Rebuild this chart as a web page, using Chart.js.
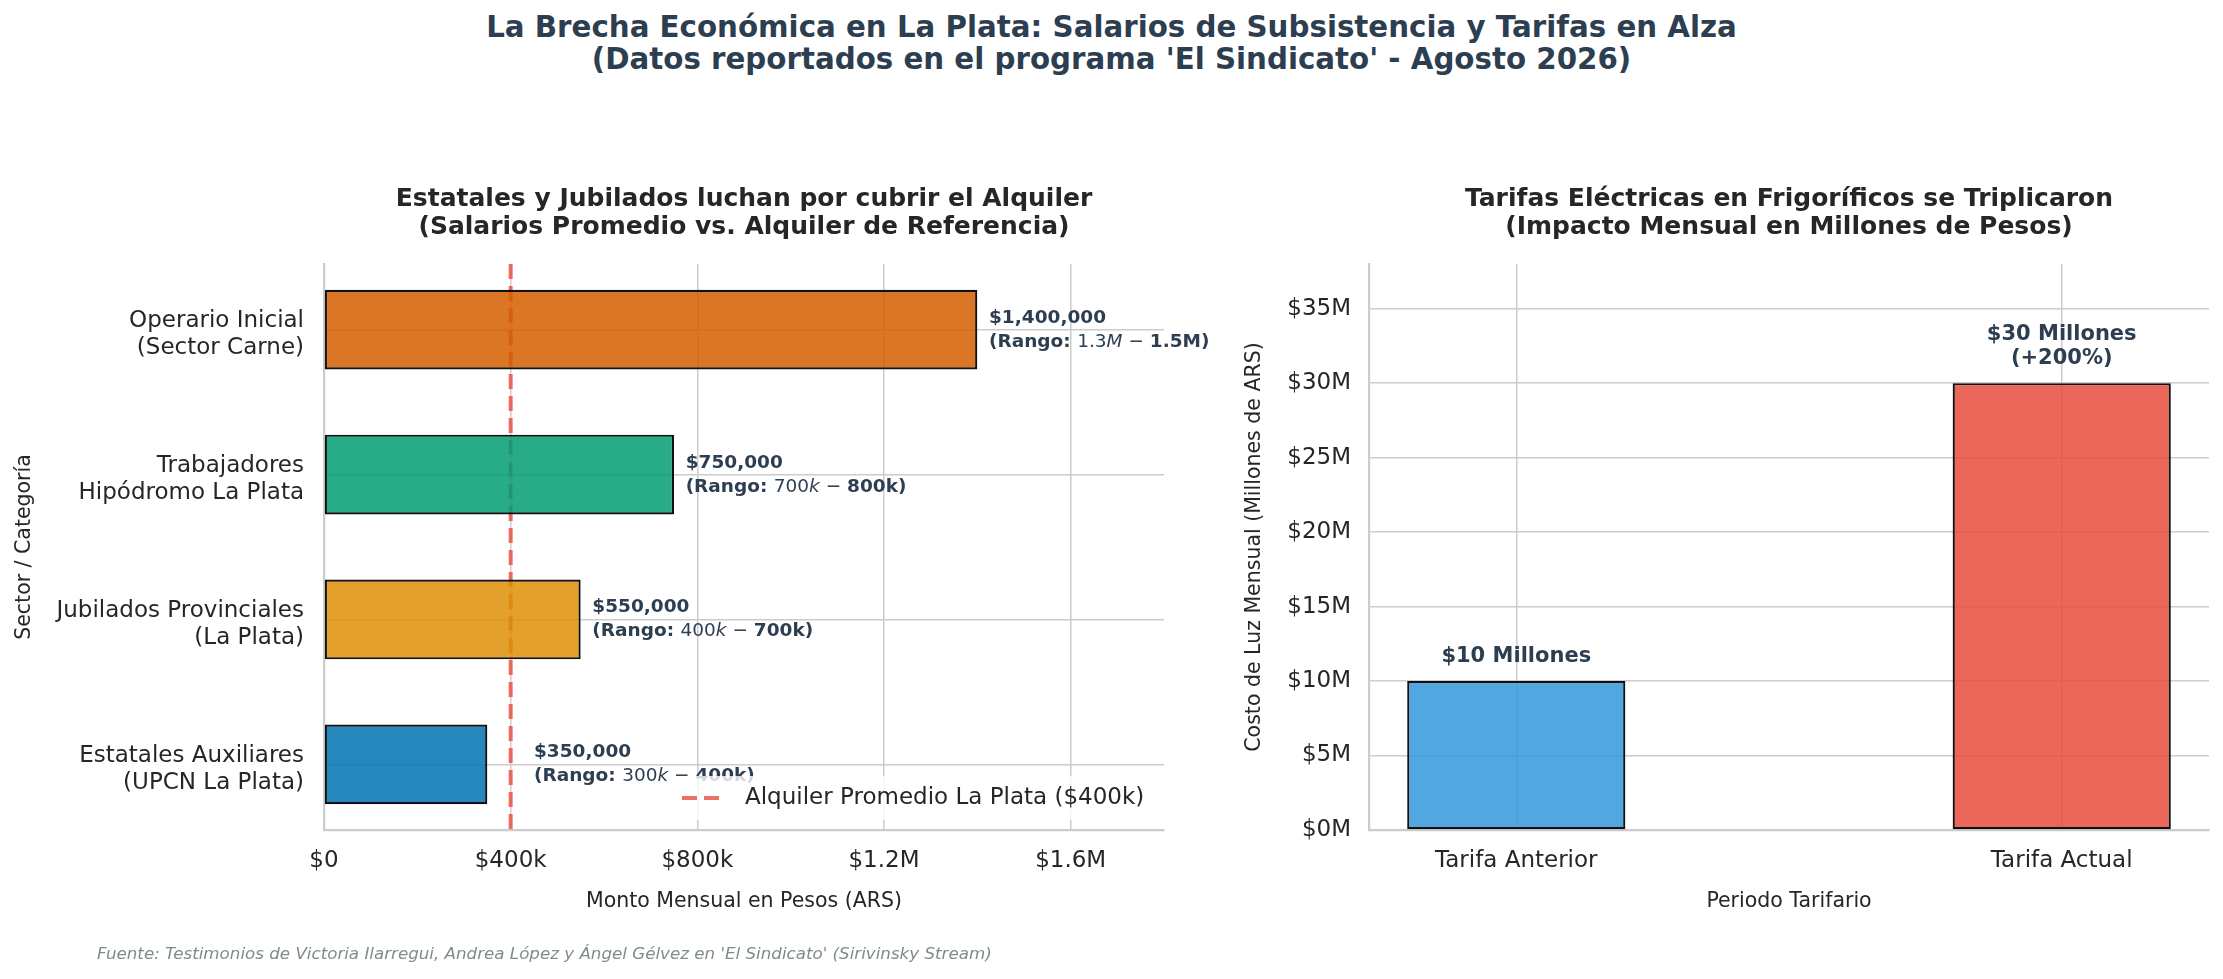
<!DOCTYPE html>
<html>
<head>
<meta charset="utf-8">
<script src="https://cdn.jsdelivr.net/npm/chart.js@4.4.0/dist/chart.umd.min.js"></script>
<style>
  body { margin: 0; background: #fff; width: 2223px; height: 979px; position: relative; overflow: hidden; }
  canvas { position: absolute; top: 0; }
  #title { position: absolute; left: 0; top: 11px; width: 2223px; text-align: center;
           font: bold 29.3px/32px 'DejaVu Sans'; color: #2c3e50; }
  #source { position: absolute; left: 97px; top: 944px; font: italic 16.7px/18px 'DejaVu Sans'; color: #7f8c8d; }
</style>
</head>
<body>
<div id="title">La Brecha Económica en La Plata: Salarios de Subsistencia y Tarifas en Alza<br>(Datos reportados en el programa 'El Sindicato' - Agosto 2026)</div>
<canvas id="right" width="1023" height="979" style="left:1200px"></canvas>
<canvas id="left" width="1250" height="979" style="left:0"></canvas>
<div id="source">Fuente: Testimonios de Victoria Ilarregui, Andrea López y Ángel Gélvez en 'El Sindicato' (Sirivinsky Stream)</div>

<script>
// salarios (panel izquierdo)
const sectors = [
  ['Operario Inicial', '(Sector Carne)'],
  ['Trabajadores', 'Hipódromo La Plata'],
  ['Jubilados Provinciales', '(La Plata)'],
  ['Estatales Auxiliares', '(UPCN La Plata)']
];
const salaries = [1400000, 750000, 550000, 350000];
const salaryText = ['$1,400,000', '$750,000', '$550,000', '$350,000'];
const rangeLow = ['1.3M', '700k', '400k', '300k'];
const rangeHigh = ['1.5M', '800k', '700k', '400k'];
const sectorColors = ['#D55E00', '#029E73', '#DE8F05', '#0173B2'];
const rent = 400000;
const salaryTicks = [0, 400000, 800000, 1200000, 1600000];
const salaryTickLabels = ['$0', '$400k', '$800k', '$1.2M', '$1.6M'];

// tarifas (panel derecho), en millones
const periods = ['Tarifa Anterior', 'Tarifa Actual'];
const tariffs = [10, 30];
const tariffText = [['$10 Millones'], ['$30 Millones', '(+200%)']];
const tariffColors = ['#3498db', '#e74c3c'];
const tariffTicks = [0, 5, 10, 15, 20, 25, 30, 35];

const FONT = "'DejaVu Sans'";
Chart.defaults.font.family = FONT;
Chart.defaults.color = '#262626';

function fade(hex, a) {
  const n = parseInt(hex.slice(1), 16);
  return 'rgba(' + (n >> 16) + ',' + ((n >> 8) & 255) + ',' + (n & 255) + ',' + a + ')';
}

const grid = { color: '#cccccc', lineWidth: 1.5, drawTicks: false, offset: false };
const border = { color: '#cccccc', width: 2.2 };
const tickFont = { size: 23, lineHeight: 1.15 };
const axisTitleFont = { size: 20.5 };
const rentStyle = { color: 'rgba(231,76,60,0.8)', width: 4, dash: [15, 7] };

function drawTitle(ctx, area, lines, y0) {
  ctx.save();
  ctx.font = 'bold 25px ' + FONT;
  ctx.fillStyle = '#262626';
  ctx.textAlign = 'center';
  ctx.textBaseline = 'alphabetic';
  const cx = (area.left + area.right) / 2;
  lines.forEach((l, i) => ctx.fillText(l, cx, y0 + i * 28));
  ctx.restore();
}

function splitUnit(s) {
  return [s.slice(0, -1), s.slice(-1)];
}

const leftExtras = {
  id: 'leftExtras',
  beforeDatasetsDraw(chart) {
    const { ctx, chartArea, scales } = chart;
    const x = scales.x.getPixelForValue(rent);
    ctx.save();
    ctx.strokeStyle = rentStyle.color;
    ctx.lineWidth = rentStyle.width;
    ctx.setLineDash(rentStyle.dash);
    ctx.beginPath();
    ctx.moveTo(x, chartArea.top);
    ctx.lineTo(x, chartArea.bottom);
    ctx.stroke();
    ctx.restore();
  },
  afterDatasetsDraw(chart) {
    const { ctx, chartArea, scales } = chart;
    ctx.save();
    ctx.fillStyle = '#2c3e50';
    ctx.textAlign = 'left';
    ctx.textBaseline = 'alphabetic';
    salaries.forEach((v, i) => {
      const at = v < rent ? rent + 50000 : v + 25000;
      let x = scales.x.getPixelForValue(at);
      const c = scales.y.getPixelForValue(i);
      ctx.font = 'bold 18.5px ' + FONT;
      ctx.fillText(salaryText[i], x, c - 7);
      const lo = splitUnit(rangeLow[i]);
      const pieces = [
        ['bold 18.5px ', '(Rango: '],
        ['18.5px ', lo[0]],
        ['italic 18.5px ', lo[1]],
        ['18.5px ', ' \u2212 '],
        ['bold 18.5px ', rangeHigh[i] + ')']
      ];
      pieces.forEach(p => {
        ctx.font = p[0] + FONT;
        ctx.fillText(p[1], x, c + 17);
        x += ctx.measureText(p[1]).width;
      });
    });

    // leyenda abajo a la derecha
    const bx = 674, by = 776, bw = chartArea.right - 11 - 674, bh = 44;
    ctx.fillStyle = 'rgba(255,255,255,0.8)';
    ctx.fillRect(bx, by, bw, bh);
    const ly = by + bh / 2;
    ctx.strokeStyle = rentStyle.color;
    ctx.lineWidth = rentStyle.width;
    ctx.setLineDash(rentStyle.dash);
    ctx.beginPath();
    ctx.moveTo(bx + 8, ly);
    ctx.lineTo(bx + 52, ly);
    ctx.stroke();
    ctx.setLineDash([]);
    ctx.fillStyle = '#262626';
    ctx.font = '23px ' + FONT;
    ctx.textBaseline = 'middle';
    ctx.fillText('Alquiler Promedio La Plata ($400k)', bx + 71, ly);
    ctx.restore();

    drawTitle(ctx, chartArea, ['Estatales y Jubilados luchan por cubrir el Alquiler',
                               '(Salarios Promedio vs. Alquiler de Referencia)'], 206);
  }
};

const rightExtras = {
  id: 'rightExtras',
  afterDatasetsDraw(chart) {
    const { ctx, chartArea, scales } = chart;
    ctx.save();
    ctx.fillStyle = '#2c3e50';
    ctx.textAlign = 'center';
    ctx.textBaseline = 'alphabetic';
    ctx.font = 'bold 21px ' + FONT;
    tariffs.forEach((v, i) => {
      const x = scales.x.getPixelForValue(i);
      const top = scales.y.getPixelForValue(v);
      const lines = tariffText[i];
      lines.forEach((l, j) => {
        ctx.fillText(l, x, top - 19 - (lines.length - 1 - j) * 24);
      });
    });
    ctx.restore();
    drawTitle(ctx, chartArea, ['Tarifas Eléctricas en Frigoríficos se Triplicaron',
                               '(Impacto Mensual en Millones de Pesos)'], 206);
  }
};

new Chart(document.getElementById('left'), {
  type: 'bar',
  data: {
    datasets: [{
      data: salaries.map((v, i) => ({ x: v, y: i })),
      backgroundColor: sectorColors.map(c => fade(c, 0.85)),
      borderColor: '#111111',
      borderWidth: 2.2,
      borderSkipped: false,
      barPercentage: 0.55,
      categoryPercentage: 1
    }]
  },
  options: {
    indexAxis: 'y',
    responsive: false,
    animation: false,
    devicePixelRatio: 1,
    layout: { padding: { top: 264, right: 86, left: 0, bottom: 0 } },
    plugins: { legend: { display: false }, tooltip: { enabled: false } },
    scales: {
      x: {
        type: 'linear', position: 'bottom', min: 0, max: 1800000, offset: false,
        afterBuildTicks: s => { s.ticks = salaryTicks.map(v => ({ value: v })); },
        afterFit: s => { s.height = 149; },
        ticks: {
          callback: v => salaryTickLabels[salaryTicks.indexOf(v)],
          font: tickFont, color: '#262626', padding: 18, maxRotation: 0, autoSkip: false
        },
        grid: grid, border: border,
        title: { display: true, text: 'Monto Mensual en Pesos (ARS)', font: axisTitleFont,
                 color: '#262626', padding: { top: 0, bottom: 64.7 } }
      },
      y: {
        type: 'linear', reverse: true, min: -0.4525, max: 3.4525, offset: false,
        afterBuildTicks: s => { s.ticks = sectors.map((_, i) => ({ value: i })); },
        afterFit: s => { s.width = 324; },
        ticks: { callback: v => sectors[v], font: tickFont, color: '#262626', padding: 20,
                 labelOffset: 5, autoSkip: false },
        grid: grid, border: border,
        title: { display: true, text: 'Sector / Categoría', font: axisTitleFont,
                 color: '#262626', padding: { top: 12.7, bottom: 0 } }
      }
    }
  },
  plugins: [leftExtras]
});

new Chart(document.getElementById('right'), {
  type: 'bar',
  data: {
    datasets: [{
      data: tariffs.map((v, i) => ({ x: i, y: v })),
      backgroundColor: tariffColors.map(c => fade(c, 0.85)),
      borderColor: '#111111',
      borderWidth: 2.2,
      borderSkipped: false,
      barPercentage: 0.4,
      categoryPercentage: 1
    }]
  },
  options: {
    responsive: false,
    animation: false,
    devicePixelRatio: 1,
    layout: { padding: { top: 264, right: 14, left: 0, bottom: 0 } },
    plugins: { legend: { display: false }, tooltip: { enabled: false } },
    scales: {
      x: {
        type: 'linear', position: 'bottom', min: -0.27, max: 1.27, offset: false,
        afterBuildTicks: s => { s.ticks = periods.map((_, i) => ({ value: i })); },
        afterFit: s => { s.height = 149; },
        ticks: { callback: v => periods[v], font: tickFont, color: '#262626', padding: 18, maxRotation: 0, autoSkip: false },
        grid: grid, border: border,
        title: { display: true, text: 'Periodo Tarifario', font: axisTitleFont,
                 color: '#262626', padding: { top: 0, bottom: 64.7 } }
      },
      y: {
        type: 'linear', min: 0, max: 38,
        afterBuildTicks: s => { s.ticks = tariffTicks.map(v => ({ value: v })); },
        afterFit: s => { s.width = 169; },
        ticks: { callback: v => '$' + v + 'M', font: tickFont, color: '#262626', padding: 18, autoSkip: false },
        grid: grid, border: border,
        title: { display: true, text: 'Costo de Luz Mensual (Millones de ARS)', font: axisTitleFont,
                 color: '#262626', padding: { top: 42.7, bottom: 0 } }
      }
    }
  },
  plugins: [rightExtras]
});
</script>
</body>
</html>
